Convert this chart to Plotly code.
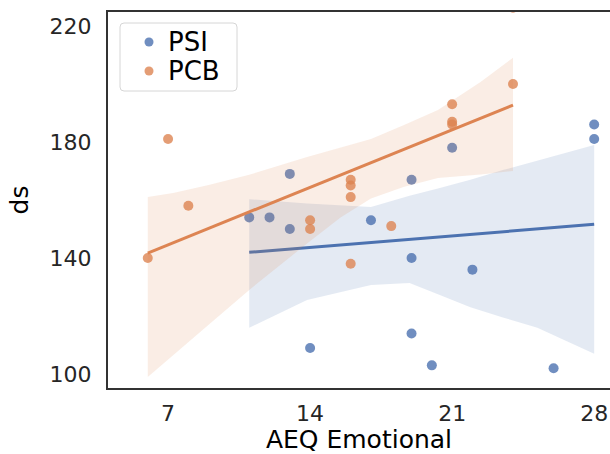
import plotly.graph_objects as go
import numpy as np

# ---- data ----
psi_x = [11, 12, 13, 13, 14, 17, 19, 19, 19, 20, 21, 22, 26, 28, 28]
psi_y = [154, 154, 150, 169, 109, 153, 140, 167, 114, 103, 178, 136, 102, 186, 181]

pcb_x = [6, 7, 8, 14, 14, 16, 16, 16, 16, 18, 21, 21, 21, 24, 24]
pcb_y = [140, 181, 158, 153, 150, 138, 167, 165, 161, 151, 193, 187, 186, 200, 226.3]

# confidence band edges
psi_band_x = [11, 13.85, 17, 18.9, 20.3, 21.9, 23.5, 25.2, 28]
psi_band_hi = [160.3, 158.8, 157.6, 161.5, 164, 167, 170.3, 173.5, 179]
psi_band_lo = [116, 125.5, 130.7, 131.4, 127.5, 123, 119.5, 116, 107]

pcb_band_x = [6, 7.25, 9, 11, 13.85, 15.5, 17, 18.6, 20.3, 22.4, 24]
pcb_band_hi = [161, 162.4, 165.2, 168.7, 174.8, 178, 181, 185.8, 191, 200.7, 209]
pcb_band_lo = [99, 106.5, 117, 129, 145, 154, 160.5, 164.5, 167.6, 168.8, 170]

x_ticks = [7, 14, 21, 28]
y_ticks = [100, 140, 180, 220]
legend_labels = ["PSI", "PCB"]

BLUE = "#4C72B0"
ORANGE = "#DD8452"
FONT = "DejaVu Sans"
DARK = "#262626"

W, H = 610, 454
ML, MR, MT, MB = 108, 0, 12, 66
PW, PH = W - ML - MR, H - MT - MB


def rgba(hexc, a):
    h = hexc.lstrip("#")
    r, g, b = int(h[0:2], 16), int(h[2:4], 16), int(h[4:6], 16)
    return f"rgba({r},{g},{b},{a})"


def px2paper(px, py):
    return (px - ML) / PW, (H - MB - py) / PH


def add_group(fig, name, xs, ys, bx, bhi, blo, color):
    fig.add_trace(go.Scatter(
        x=xs, y=ys, mode="markers", name=name, showlegend=False,
        marker=dict(size=10, color=rgba(color, 0.8), line=dict(width=0)),
    ))
    fig.add_trace(go.Scatter(
        x=list(bx) + list(bx)[::-1], y=list(bhi) + list(blo)[::-1],
        fill="toself", fillcolor=rgba(color, 0.15), mode="lines",
        line=dict(width=0), hoverinfo="skip", showlegend=False,
    ))
    slope, intercept = np.polyfit(xs, ys, 1)
    lx = [min(xs), max(xs)]
    ly = [slope * v + intercept for v in lx]
    fig.add_trace(go.Scatter(
        x=lx, y=ly, mode="lines", line=dict(color=color, width=3),
        showlegend=False, hoverinfo="skip",
    ))


fig = go.Figure()
add_group(fig, "PSI", psi_x, psi_y, psi_band_x, psi_band_hi, psi_band_lo, BLUE)
add_group(fig, "PCB", pcb_x, pcb_y, pcb_band_x, pcb_band_hi, pcb_band_lo, ORANGE)

# ---- legend box drawn manually (matplotlib style) ----
x0, y0 = px2paper(120, 91)
x1, y1 = px2paper(237, 23)
rx, ry = 4 / PW, 4 / PH
path = (f"M {x0+rx},{y0} L {x1-rx},{y0} Q {x1},{y0} {x1},{y0+ry} "
        f"L {x1},{y1-ry} Q {x1},{y1} {x1-rx},{y1} L {x0+rx},{y1} "
        f"Q {x0},{y1} {x0},{y1-ry} L {x0},{y0+ry} Q {x0},{y0} {x0+rx},{y0} Z")
fig.add_shape(type="path", path=path, xref="paper", yref="paper",
              fillcolor="rgba(255,255,255,0.8)", line=dict(color="#d6d6d6", width=1))
for label, color, cy in zip(legend_labels, [BLUE, ORANGE], [42, 71]):
    mx0, my0 = px2paper(144.5, cy + 4.5)
    mx1, my1 = px2paper(153.5, cy - 4.5)
    fig.add_shape(type="circle", xref="paper", yref="paper",
                  x0=mx0, y0=my0, x1=mx1, y1=my1,
                  fillcolor=rgba(color, 0.8), line=dict(width=0))
    tx, ty = px2paper(166, cy)
    fig.add_annotation(x=tx, y=ty, xref="paper", yref="paper", text=label,
                       showarrow=False, xanchor="left", yanchor="middle",
                       font=dict(size=26, family=FONT, color="black"))

fig.update_layout(
    width=W, height=H,
    margin=dict(l=ML, r=MR, t=MT, b=MB),
    paper_bgcolor="white", plot_bgcolor="white",
    font=dict(family=FONT, color=DARK, size=22),
    showlegend=False,
)
fig.update_xaxes(
    range=[4.04, 28.78], tickvals=x_ticks, ticktext=[str(v) for v in x_ticks],
    showgrid=False, zeroline=False, automargin=False,
    showline=True, linecolor="#333333", linewidth=2, mirror=True,
    ticks="outside", ticklen=5, tickcolor="rgba(0,0,0,0)",
    tickfont=dict(size=22, family=FONT, color=DARK),
    title=dict(text="AEQ Emotional", font=dict(size=25, family=FONT, color="black"), standoff=6),
)
fig.update_yaxes(
    range=[95.2, 224.8], tickvals=y_ticks, ticktext=[str(v) for v in y_ticks],
    showgrid=False, zeroline=False, automargin=False,
    showline=True, linecolor="#333333", linewidth=2, mirror=False,
    ticks="outside", ticklen=10, tickcolor="rgba(0,0,0,0)",
    tickfont=dict(size=22, family=FONT, color=DARK),
    title=dict(text="ds", font=dict(size=25, family=FONT, color="black"), standoff=14),
)

fig.write_html(
    "out.html",
    config={"displayModeBar": False},
    post_script="document.body.style.margin='0';document.body.style.overflow='hidden';",
)
